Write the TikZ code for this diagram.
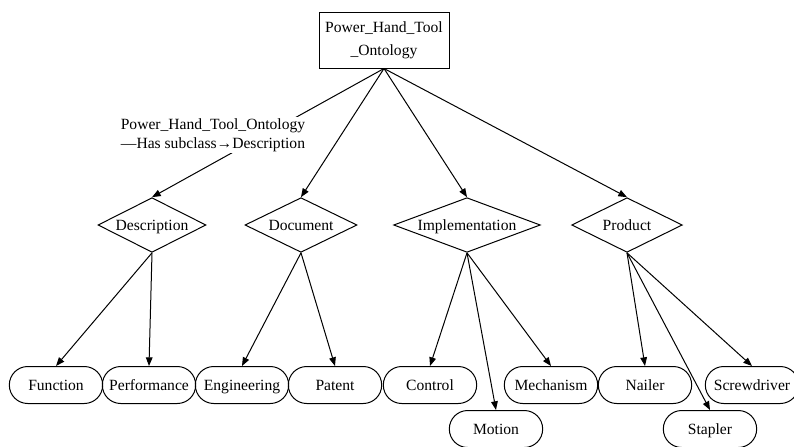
\documentclass[tikz,border=0pt]{standalone}
\usepackage{fontspec}
\setmainfont{Liberation Serif}
\usetikzlibrary{shapes.geometric,arrows.meta}
\begin{document}
\begin{tikzpicture}[x=0.75pt,y=-0.75pt,
  font=\fontsize{11.7}{14}\selectfont, line width=0.75pt,
  strut/.style={text height=9.6pt, text depth=1.2pt},
  rootbox/.style={draw, rectangle, minimum width=97.5pt, minimum height=42pt,
    align=center, inner sep=0pt, font=\fontsize{11.7}{17.5}\selectfont},
  dia/.style={draw, diamond, minimum height=41pt, inner sep=0pt},
  every label/.append style={strut, inner sep=0pt},
  oval/.style={draw, rectangle, rounded corners=13.8pt, minimum width=70pt,
    minimum height=27.75pt, inner xsep=2pt, strut},
  edgelbl/.style={fill=white, align=center, inner sep=1pt},
  arr/.style={-{Triangle[length=6.5pt,width=5pt]}}]
\useasboundingbox (0,0) rectangle (794,447);

% root class
\node[rootbox] (root) at (384,40) {Power\_Hand\_Tool\\\_Ontology};

% first-level subclasses
\node[dia, minimum width=81pt, label={center:Description}] (desc) at (152,225) {};
\node[dia, minimum width=84pt, label={center:Document}] (doc) at (301,225) {};
\node[dia, minimum width=110pt, label={center:Implementation}] (impl) at (467,225) {};
\node[dia, minimum width=83pt, label={center:Product}] (prod) at (627,225) {};

% leaves
\node[oval] (func) at (56,385) {Function};
\node[oval] (perf) at (149,385) {Performance};
\node[oval] (eng) at (242,385) {Engineering};
\node[oval] (pat) at (335,385) {Patent};
\node[oval] (ctrl) at (430,385) {Control};
\node[oval] (mot) at (496,429) {Motion};
\node[oval] (mech) at (551,385) {Mechanism};
\node[oval] (nail) at (645,385) {Nailer};
\node[oval] (stap) at (710,429) {Stapler};
\node[oval] (screw) at (752,385) {Screwdriver};

% root edges
\draw[arr] (root.south) -- (desc.north);
\node[edgelbl] (lbl) at (213,135) {Power\_Hand\_Tool\_Ontology\\—Has subclass→Description};
\draw[arr] (root.south) -- (doc.north);
\draw[arr] (root.south) -- (impl.north);
\draw[arr] (root.south) -- (prod.north);

% second-level edges
\draw[arr] (desc.south) -- (func.north);
\draw[arr] (desc.south) -- (perf.north);
\draw[arr] (doc.south) -- (eng.north);
\draw[arr] (doc.south) -- (pat.north);
\draw[arr] (impl.south) -- (ctrl.north);
\draw[arr] (impl.south) -- (mot.north);
\draw[arr] (impl.south) -- (mech.north);
\draw[arr] (prod.south) -- (nail.north);
\draw[arr] (prod.south) -- (stap.north);
\draw[arr] (prod.south) -- (screw.north);
\end{tikzpicture}
\end{document}
